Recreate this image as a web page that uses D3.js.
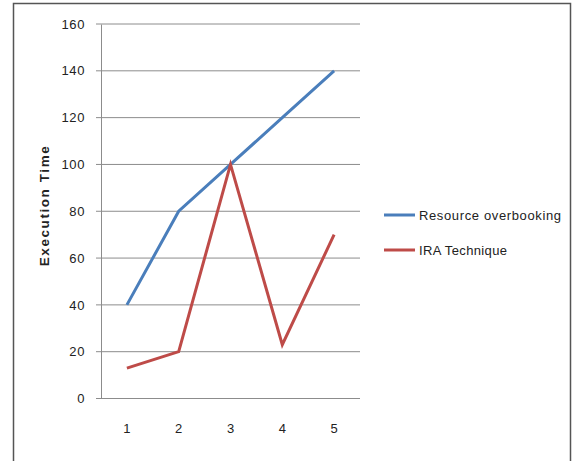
<!DOCTYPE html>
<html>
<head>
<meta charset="utf-8">
<script src="https://cdn.jsdelivr.net/npm/d3@7"></script>
<style>
  body { margin: 0; background: #fff; }
  text { font-family: "Liberation Sans", Arial, sans-serif; }
</style>
</head>
<body>
<div id="chart"></div>
<script>
// data
let categories = ["1", "2", "3", "4", "5"];
let seriesNames = ["Resource overbooking", "IRA Technique"];
let overbooking = [40, 80, 100, 120, 140];
let iraTechnique = [13, 20, 100, 23, 70];
let yTicks = [0, 20, 40, 60, 80, 100, 120, 140, 160];

let svgWidth = 576;
let svgHeight = 461;

let margin = { top: 24, left: 101, right: 216, bottom: 62.5 };
let width = svgWidth - margin.left - margin.right;
let height = svgHeight - margin.top - margin.bottom;

let svg = d3.select("#chart")
    .append("svg")
    .attr("width", svgWidth)
    .attr("height", svgHeight);

// outer frame
svg.append("rect")
    .attr("x", 13.5)
    .attr("y", 3.5)
    .attr("width", 557)
    .attr("height", 470)
    .attr("fill", "none")
    .attr("stroke", "#555")
    .attr("stroke-width", 1.5);

let chartGroup = svg.append("g")
    .attr("transform", `translate(${margin.left}, ${margin.top})`);

let xScale = d3.scaleBand()
    .domain(categories)
    .range([0, width]);

let yScale = d3.scaleLinear()
    .domain([0, 160])
    .range([height, 0]);

// gridlines
chartGroup.append("g")
    .selectAll("line")
    .data(yTicks)
    .enter()
    .append("line")
    .attr("x1", -5)
    .attr("x2", width)
    .attr("y1", d => yScale(d))
    .attr("y2", d => yScale(d))
    .attr("stroke", "#8c8c8c")
    .attr("stroke-width", 1);

// y axis
let leftAxis = d3.axisLeft(yScale).tickValues(yTicks).tickSize(0).tickPadding(16);
let yAxis = chartGroup.append("g").call(leftAxis);
yAxis.select(".domain").attr("stroke", "#8c8c8c");
yAxis.selectAll("text")
    .attr("font-size", 13)
    .attr("letter-spacing", 0.6)
    .attr("fill", "#222");

// x axis
let bottomAxis = d3.axisBottom(xScale).tickSize(0).tickPadding(25);
let xAxis = chartGroup.append("g")
    .attr("transform", `translate(0, ${height})`)
    .call(bottomAxis);
xAxis.select(".domain").remove();
xAxis.selectAll("text")
    .attr("font-size", 13)
    .attr("fill", "#222");

// y axis title
chartGroup.append("text")
    .attr("transform", "rotate(-90)")
    .attr("x", -height / 2 + 5)
    .attr("y", -52)
    .attr("text-anchor", "middle")
    .attr("font-size", 13.5)
    .attr("font-weight", "bold")
    .attr("textLength", 120)
    .attr("lengthAdjust", "spacing")
    .attr("fill", "#222")
    .text("Execution Time");

let colors = ["#4a7ebb", "#be4b48"];
let allSeries = [overbooking, iraTechnique];

let line = d3.line()
    .x((d, i) => xScale(categories[i]) + xScale.bandwidth() / 2)
    .y(d => yScale(d));

allSeries.forEach(function(values, i) {
    chartGroup.append("path")
        .datum(values)
        .attr("d", line)
        .attr("fill", "none")
        .attr("stroke", colors[i])
        .attr("stroke-width", 3);
});

// legend
let legend = svg.append("g")
    .attr("transform", "translate(384, 215)");

let legendWidths = [142, 88];
seriesNames.forEach(function(name, i) {
    let row = legend.append("g")
        .attr("transform", `translate(0, ${i * 35})`);
    row.append("line")
        .attr("x1", 0)
        .attr("x2", 31)
        .attr("y1", 0)
        .attr("y2", 0)
        .attr("stroke", colors[i])
        .attr("stroke-width", 3);
    row.append("text")
        .attr("x", 35)
        .attr("y", 5)
        .attr("font-size", 13)
        .attr("textLength", legendWidths[i])
        .attr("lengthAdjust", "spacing")
        .attr("fill", "#222")
        .text(name);
});
</script>
</body>
</html>
